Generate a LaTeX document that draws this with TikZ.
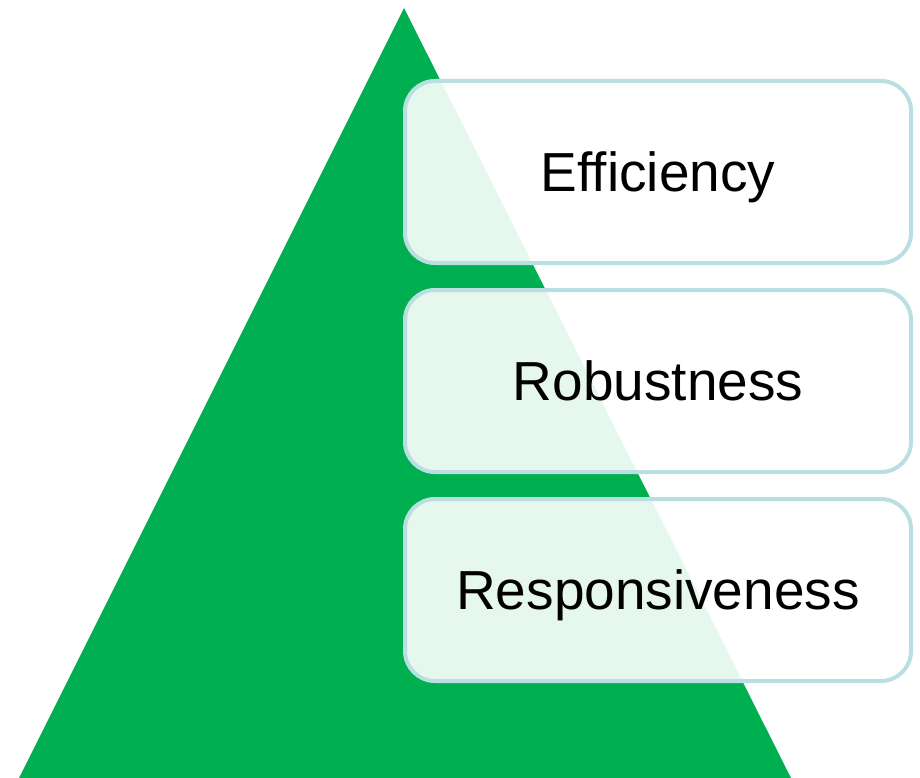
\documentclass[tikz,border=0pt]{standalone}
\usepackage{fontspec}
\setmainfont[Ligatures={NoCommon}]{Liberation Sans}
\usetikzlibrary{positioning}
\definecolor{triGreen}{HTML}{00AF50}
\definecolor{boxLine}{HTML}{B9DFE3}
\tikzstyle{level}=[draw=boxLine, line width=4pt, rounded corners=30pt, fill=white, fill opacity=0.9, text opacity=1, minimum width=506pt, minimum height=182pt, text height=39pt, text depth=0pt, font=\fontsize{55}{60}\selectfont]

\begin{document}
\begin{tikzpicture}[x=1pt, y=-1pt, node distance=23pt]
      \useasboundingbox (0,0) rectangle (920,778);
      \coordinate (apex) at (404,8);
      \coordinate (baseLeft) at (19,778);
      \coordinate (baseRight) at (791,778);
      \fill [triGreen] (apex) -- (baseRight) -- (baseLeft) -- cycle;
      \node (efficiency) [level] at (658,172) {Efficiency};
      \node (robustness) [level, below=of efficiency] {Robustness};
      \node (responsiveness) [level, below=of robustness] {Responsiveness};
    \end{tikzpicture}
\end{document}
